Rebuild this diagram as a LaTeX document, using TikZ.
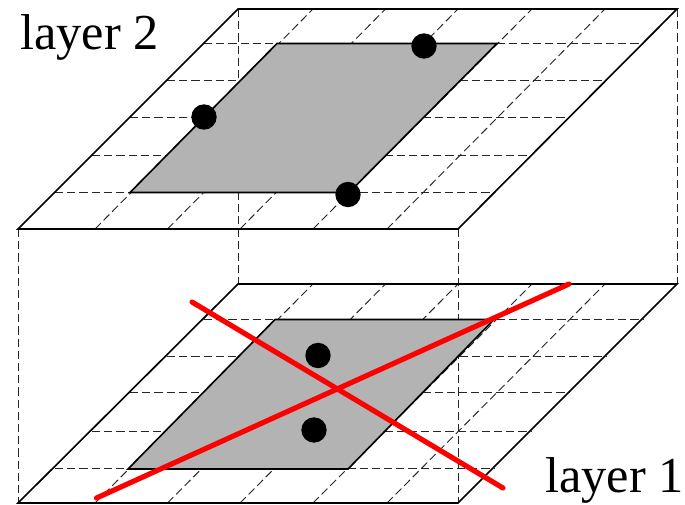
\documentclass[tikz,border=0pt]{standalone}
\usepackage{fontspec}
\setmainfont{Liberation Serif}
\usepackage{xcolor}
\definecolor{cPatch}{RGB}{179,179,179}
\definecolor{cCut}{RGB}{255,0,0}
\tikzset{
	plate/.style={draw=black, line width=1.4pt, line join=miter},
	griddash/.style={draw=black!85, line width=0.8pt, dash pattern=on 7pt off 3.4pt},
	patch/.style={draw=black, line width=1.4pt, fill=cPatch},
	viadot/.style={circle, fill=black, inner sep=0pt, minimum size=0.76cm},
	cutline/.style={draw=cCut, line width=4.4pt, line cap=round},
	laylabel/.style={inner sep=0pt, anchor=base west, font=\fontsize{43}{50}\selectfont},
}
\begin{document}
\begin{tikzpicture}
			\useasboundingbox (0,0) rectangle (20.55,-15.12);

			% Hidden verticals between the layers
			\draw[griddash] (0.54,-6.87)  -- (0.54,-15.09);
			\draw[griddash] (13.74,-6.87) -- (13.74,-15.09);
			\draw[griddash] (7.14,-0.27)  -- (7.14,-8.52);
			\draw[griddash] (20.31,-0.27) -- (20.31,-8.52);

			% Layer 2 grid, rows
			\draw[griddash] (6.12,-1.305) -- (19.32,-1.305);
			\draw[griddash] (5.01,-2.415) -- (18.21,-2.415);
			\draw[griddash] (3.90,-3.51)  -- (17.10,-3.51);
			\draw[griddash] (2.76,-4.65)  -- (15.96,-4.65);
			\draw[griddash] (1.65,-5.76)  -- (14.85,-5.76);

			% Layer 2 grid, slanted
			\draw[griddash] (2.85,-6.87)  -- (9.39,-0.27);
			\draw[griddash] (5.025,-6.87) -- (11.565,-0.27);
			\draw[griddash] (7.20,-6.87)  -- (13.74,-0.27);
			\draw[griddash] (9.39,-6.87)  -- (15.96,-0.27);
			\draw[griddash] (11.61,-6.87) -- (18.15,-0.27);

			% Layer 1 grid, rows
			\draw[griddash] (6.12,-9.585)  -- (19.32,-9.585);
			\draw[griddash] (5.01,-10.695) -- (18.21,-10.695);
			\draw[griddash] (3.90,-11.775) -- (17.10,-11.775);
			\draw[griddash] (2.76,-12.93)  -- (15.96,-12.93);
			\draw[griddash] (1.65,-14.055) -- (14.85,-14.055);

			% Layer 1 grid, slanted
			\draw[griddash] (2.85,-15.09)  -- (9.39,-8.52);
			\draw[griddash] (5.025,-15.09) -- (11.565,-8.52);
			\draw[griddash] (7.20,-15.09)  -- (13.74,-8.52);
			\draw[griddash] (9.39,-15.09)  -- (15.96,-8.52);
			\draw[griddash] (11.61,-15.09) -- (18.15,-8.52);

			% Plate outlines
			\draw[plate] (0.54,-6.87) -- (13.74,-6.87) -- (20.31,-0.27) -- (7.14,-0.27) -- cycle;
			\draw[plate] (0.54,-15.09) -- (13.74,-15.09) -- (20.31,-8.52) -- (7.14,-8.52) -- cycle;

			% Gray patches
			\draw[patch] (3.90,-5.775) -- (10.47,-5.775) -- (14.91,-1.305) -- (8.31,-1.305) -- cycle;
			\draw[patch] (3.84,-14.07) -- (10.44,-14.07) -- (14.82,-9.585) -- (8.25,-9.585) -- cycle;

			% Dots
			\node[viadot] at (6.12,-3.51)  (topa) {};
			\node[viadot] at (12.72,-1.38) (topb) {};
			\node[viadot] at (10.44,-5.835) (topc) {};
			\node[viadot] at (9.54,-10.665) (lowa) {};
			\node[viadot] at (9.42,-12.90)  (lowb) {};

			% Red cross
			\draw[cutline] (5.76,-9.06)  -- (15.09,-14.64);
			\draw[cutline] (2.895,-14.94) -- (17.07,-8.52);

			% Labels
			\node[laylabel] at (0.60,-1.47)   (lay2) {layer 2};
			\node[laylabel] at (16.35,-14.78) (lay1) {layer 1};
		\end{tikzpicture}
\end{document}
